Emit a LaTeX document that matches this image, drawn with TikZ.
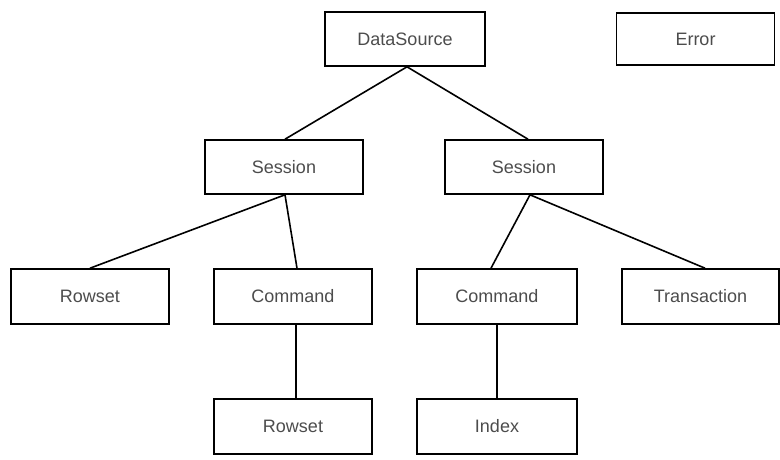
\documentclass[tikz,border=0pt]{standalone}
\usepackage{fontspec}
\setmainfont{Liberation Sans}
\begin{document}
\begin{tikzpicture}[x=1pt,y=-1pt,
  box/.style={draw=black, line width=1.6pt, minimum width=158pt, minimum height=54pt, inner sep=0pt, text=black!70, font=\fontsize{18}{21}\selectfont},
  link/.style={line width=1.6pt, black}]
\useasboundingbox (0,0) rectangle (780,459);
\node[box, minimum width=160pt] (ds) at (405,39) {DataSource};
\node[box, minimum height=52pt] (err) at (695.5,39) {Error};
\node[box] (sL) at (284,167) {Session};
\node[box] (sR) at (524,167) {Session};
\node[box, minimum height=55pt] (rw1) at (90,296.5) {Rowset};
\node[box, minimum height=55pt] (cL) at (293,296.5) {Command};
\node[box, minimum height=55pt, minimum width=160pt] (cR) at (497,296.5) {Command};
\node[box, minimum height=55pt, minimum width=157pt] (tr) at (700.5,296.5) {Transaction};
\node[box, minimum height=55pt] (rw2) at (293,426.5) {Rowset};
\node[box, minimum height=55pt, minimum width=160pt] (ix) at (497,426.5) {Index};
\draw[link] ([xshift=2pt]ds.south) -- ([xshift=1pt]sL.north);
\draw[link] ([xshift=2pt]ds.south) -- ([xshift=4pt]sR.north);
\draw[link] ([xshift=1pt]sL.south) -- (rw1.north);
\draw[link] ([xshift=1pt]sL.south) -- ([xshift=4pt]cL.north);
\draw[link] ([xshift=6pt]sR.south) -- ([xshift=-6pt]cR.north);
\draw[link] ([xshift=6pt]sR.south) -- ([xshift=4.5pt]tr.north);
\draw[link] ([xshift=3pt]cL.south) -- ([xshift=3pt]rw2.north);
\draw[link] (cR.south) -- (ix.north);
\end{tikzpicture}
\end{document}
